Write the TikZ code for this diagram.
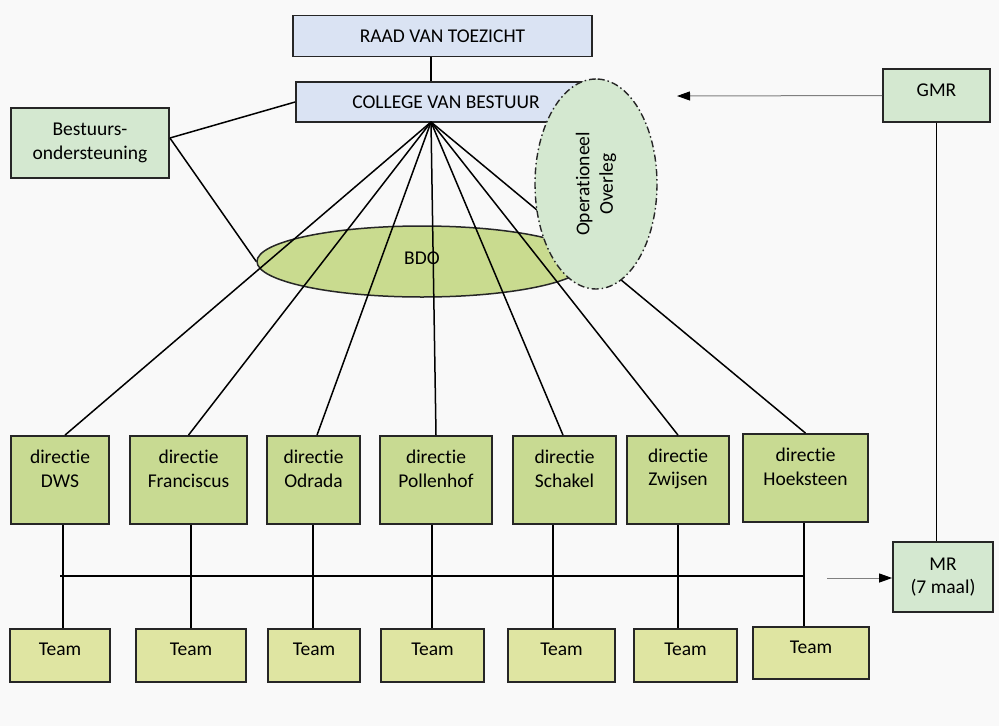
\documentclass[tikz,border=0pt]{standalone}
\usepackage{fontspec}
\setmainfont{Carlito}[Ligatures={NoCommon}]
\usetikzlibrary{shapes.geometric,arrows.meta}
\definecolor{bluebox}{HTML}{DAE3F3}
\definecolor{lgreen}{HTML}{D4E8D0}
\definecolor{dgreen}{HTML}{C8DA92}
\definecolor{teamc}{HTML}{DFE5A2}
\definecolor{bdoc}{HTML}{C9DB8F}
\definecolor{bordc}{HTML}{262626}
\definecolor{bgc}{HTML}{F9F9F9}
\begin{document}
\begin{tikzpicture}[x=1pt,y=-1pt,
  every node/.style={font=\fontsize{19.5}{23.5}\selectfont, text=black},
  box/.style={draw=bordc, line width=1.8pt, rectangle, inner sep=0pt, align=center},
  bluebx/.style={box, fill=bluebox, minimum height=41pt},
  greenbx/.style={box, fill=lgreen},
  dirbx/.style={box, fill=dgreen, minimum height=88pt},
  teambx/.style={box, fill=teamc, minimum height=53pt},
  lab/.style={align=center, inner sep=0pt, draw=none, fill=none},
  conn/.style={draw=black, line width=1.5pt},
  arr/.style={draw=black!50, line width=1pt, -{Triangle[length=13pt,width=9pt,color=black]}}
]
\fill[bgc] (0,0) rectangle (999,726);

% top boxes
\node[bluebx, minimum width=299pt] (rvt) at (442.5,36) {RAAD VAN TOEZICHT};
\node[bluebx, minimum width=300pt, minimum height=40pt] (cvb) at (446,102) {COLLEGE VAN BESTUUR};
\node[greenbx, minimum width=158pt, minimum height=70pt] (bo) at (90,143) {Bestuurs-\\ondersteuning};
\node[greenbx, minimum width=107pt, minimum height=53pt, label={[lab,yshift=5pt]center:GMR}] (gmr) at (936.5,95.5) {};
\node[greenbx, minimum width=100pt, minimum height=70pt] (mr) at (943,577) {MR\\(7 maal)};

% directie boxes
\node[dirbx, minimum width=98pt,  label={[lab,yshift=11pt]center:directie\\DWS}] (dws) at (60,480) {};
\node[dirbx, minimum width=117pt, label={[lab,yshift=11pt]center:directie\\Franciscus}] (fra) at (188.5,480) {};
\node[dirbx, minimum width=93pt,  label={[lab,yshift=11pt]center:directie\\Odrada}] (odr) at (313.5,480) {};
\node[dirbx, minimum width=112pt, label={[lab,yshift=11pt]center:directie\\Pollenhof}] (pol) at (436,480) {};
\node[dirbx, minimum width=103pt, label={[lab,yshift=11pt]center:directie\\Schakel}] (sch) at (564.5,480) {};
\node[dirbx, minimum width=102pt, label={[lab,yshift=11pt]center:directie\\Zwijsen}] (zwi) at (678,480) {};
\node[dirbx, minimum width=125pt, label={[lab,yshift=11pt]center:directie\\Hoeksteen}] (hoe) at (805.5,478) {};

% team boxes
\node[teambx, minimum width=100pt, label={[lab,yshift=6pt]center:Team}] (t1) at (60,655.5) {};
\node[teambx, minimum width=110pt, label={[lab,yshift=6pt]center:Team}] (t2) at (191,655.5) {};
\node[teambx, minimum width=92pt,  label={[lab,yshift=6pt]center:Team}] (t3) at (314,655.5) {};
\node[teambx, minimum width=103pt, label={[lab,yshift=6pt]center:Team}] (t4) at (432.5,655.5) {};
\node[teambx, minimum width=107pt, label={[lab,yshift=6pt]center:Team}] (t5) at (561.5,655.5) {};
\node[teambx, minimum width=103pt, label={[lab,yshift=6pt]center:Team}] (t6) at (685.5,655.5) {};
\node[teambx, minimum width=116pt, minimum height=52pt, label={[lab,yshift=6pt]center:Team}] (t7) at (811,653) {};

% BDO ellipse
\node[ellipse, draw=bordc, line width=1.5pt, fill=bdoc, minimum width=330pt, minimum height=71pt, inner sep=0pt] (bdo) at (422,261.5) {};
\node[lab] (bdotxt) at (422,258) {BDO};

% connectors
\coordinate (fan) at (431,122);
\draw[conn] (fan |- rvt.south) -- (fan |- cvb.north);
\draw[conn] ([yshift=5pt]bo.east) -- (cvb.west);
\draw[conn] ([yshift=5pt]bo.east) -- (bdo.west);
\draw[conn] (fan) -- ([xshift=5pt]dws.north);
\draw[conn] (fan) -- (fra.north);
\draw[conn] (fan) -- ([xshift=3.5pt]odr.north);
\draw[conn] (fan) -- (pol.north);
\draw[conn] (fan) -- ([xshift=-1.5pt]sch.north);
\draw[conn] (fan) -- (zwi.north);
\draw[conn] (fan) -- (hoe.north);

\draw[conn] ([xshift=3pt]dws.south) -- ([xshift=3pt]dws.south |- t1.north);
\draw[conn] ([xshift=2.5pt]fra.south) -- ([xshift=2.5pt]fra.south |- t2.north);
\draw[conn] ([xshift=-0.5pt]odr.south) -- ([xshift=-0.5pt]odr.south |- t3.north);
\draw[conn] ([xshift=-4pt]pol.south) -- ([xshift=-4pt]pol.south |- t4.north);
\draw[conn] ([xshift=-11.5pt]sch.south) -- ([xshift=-11.5pt]sch.south |- t5.north);
\draw[conn] (zwi.south) -- (zwi.south |- t6.north);
\draw[conn] ([xshift=-1.5pt]hoe.south) -- ([xshift=-1.5pt]hoe.south |- t7.north);

\coordinate (hl) at (60,576);
\draw[conn] (hl) -- ([xshift=-1.5pt]hoe.south |- hl);

\draw[conn] (gmr.south) -- (gmr.south |- mr.north);
\coordinate (mrin) at (827,578);
\draw[arr] (mrin) -- (mrin -| mr.west);
\coordinate (gmrout) at (677,96);
\draw[arr] (gmr.west) -- (gmrout);

% Operationeel Overleg ellipse on top
\node[ellipse, draw=bordc, line width=1.4pt, dash pattern=on 7pt off 3pt on 1.5pt off 3pt,
      fill=lgreen, rotate=90, minimum width=210pt, minimum height=122pt, inner sep=0pt, align=center]
      (ovl) at (596,184) {Operationeel\\Overleg};
\end{tikzpicture}
\end{document}
